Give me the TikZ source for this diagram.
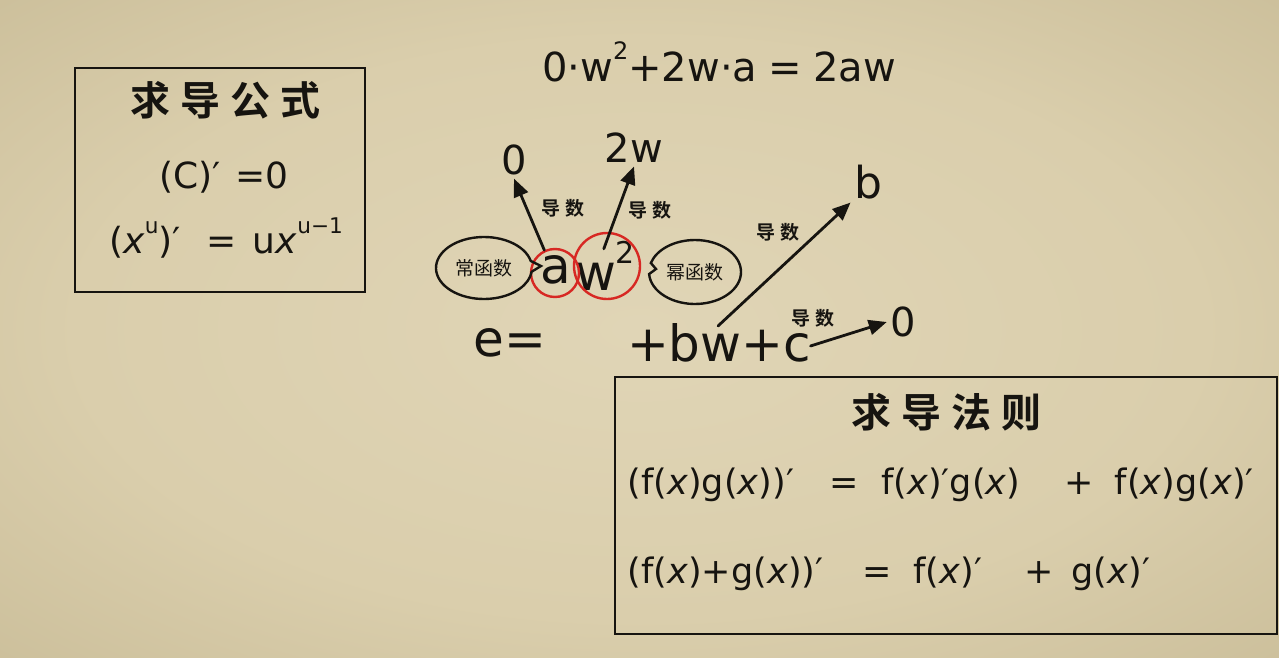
\documentclass[tikz,border=0pt]{standalone}
\usepackage{fontspec}
\setmainfont{DejaVu Sans}
\newfontfamily\cjk{Noto Sans CJK SC}
\newfontfamily\cjkbold{Noto Sans CJK SC Bold}
\usetikzlibrary{positioning, arrows.meta, shapes.callouts}
\definecolor{paperc}{RGB}{224,213,182}
\definecolor{paperb}{RGB}{218,206,172}
\definecolor{paperm}{RGB}{198,185,148}
\definecolor{papere}{RGB}{160,147,110}
\definecolor{paperx}{RGB}{135,123,92}
\definecolor{ink}{RGB}{22,20,16}
\definecolor{ringred}{RGB}{215,40,35}
\pgfdeclareradialshading{paper}{\pgfpoint{0bp}{0bp}}{color(0bp)=(paperc); color(22bp)=(paperb); color(42bp)=(paperm); color(58bp)=(papere); color(72bp)=(paperx)}
\newcommand{\hsup}[1]{\raisebox{0.55em}{\scalebox{0.6}{#1}}}

\begin{document}
\begin{tikzpicture}[
    x=1pt, y=-1pt,
    ink, line cap=round,
    bigtxt/.style={font=\fontsize{50}{56}\selectfont},
    toptxt/.style={font=\fontsize{40}{46}\selectfont},
    formula/.style={font=\fontsize{36}{42}\selectfont},
    rule/.style={font=\fontsize{35}{40}\selectfont},
    title/.style={font=\cjkbold\fontsize{40}{44}\selectfont},
    deriv/.style={font=\cjkbold\fontsize{19}{22}\selectfont},
    bubble/.style={ellipse callout, draw, line width=2.4pt, minimum width=96pt,
        minimum height=62pt, inner sep=0pt, font=\cjk\fontsize{19}{22}\selectfont,
        callout pointer arc=20},
    ring/.style={circle, draw=ringred, line width=2.4pt, inner sep=0pt},
    darrow/.style={line width=2.8pt, -{Triangle[length=18pt, width=15pt]}},
    frame/.style={draw, line width=2.6pt}
]
    % paper
    \shade[shading=paper] (0,0) rectangle (1279,658);
    \useasboundingbox (0,0) rectangle (1279,658);

    % formula box
    \draw[frame] (75,68) rectangle (365,292);
    \node[title] (ftitle) at (225,100) {求\hspace{10pt}导\hspace{10pt}公\hspace{10pt}式};
    \node[formula] (fconst) at (224,177) {(C)′\hspace{14pt}=0};
    \node[formula] (fpow) at (226,238) {(\textit{x}\hsup{u})′\hspace{26pt}=\hspace{16pt}u\textit{x}\hsup{u−1}};

    % result on top
    \node[toptxt] (result) at (719,62) {0·w\hsup{2}+2w·a\;=\;2aw};

    % e = a w^2 + b w + c
    \node[bigtxt] (elhs) at (510,343) {e=};
    \node[bigtxt] (ta) at (556,270) {a};
    \node[bigtxt] (tw) at (605,266) {w\hsup{2}};
    \node[bigtxt] (bwc) at (719,343) {+bw+c};
    \node[ring, minimum size=48pt] (ra) at (555,273) {};
    \node[ring, minimum size=66pt] (rw) at (607,266) {};

    % bubbles
    \node[bubble, callout absolute pointer={(541,266)}] (const) at (484,268) {常函数};
    \node[bubble, callout absolute pointer={(656,269)}, minimum width=92pt, minimum height=64pt] (power) at (695,272) {幂函数};

    % derivatives
    \node[font=\fontsize{40}{46}\selectfont] (zeroa) at (514,160) {0};
    \node[toptxt] (twow) at (634,148) {2w};
    \node[font=\fontsize{44}{50}\selectfont] (bval) at (868,182) {b};
    \node[font=\fontsize{40}{46}\selectfont] (zeroc) at (903,322) {0};
    \coordinate (bwtop) at (718,326);

    \draw[darrow] (ra.115) -- (zeroa.south);
    \draw[darrow, shorten <=-18pt] (rw.85) -- (twow.south);
    \draw[darrow] (bwtop) -- (bval.south west);
    \draw[darrow] (bwc.east) ++(-4,3) -- (zeroc.west);

    \node[deriv] (da) at (563,208) {导\hspace{6pt}数};
    \node[deriv] (dw) at (650,210) {导\hspace{6pt}数};
    \node[deriv] (db) at (778,232) {导\hspace{6pt}数};
    \node[deriv] (dc) at (813,318) {导\hspace{6pt}数};

    % rules box
    \draw[frame] (615,377) rectangle (1277,634);
    \node[title] (rtitle) at (946,412) {求\hspace{10pt}导\hspace{10pt}法\hspace{10pt}则};
    \node[rule, anchor=west] (rprod) at (624,485) {(f(\textit{x})g(\textit{x}))′\hspace{36pt}=\hspace{22pt}f(\textit{x})′g(\textit{x})\hspace{44pt}+\hspace{21pt}f(\textit{x})g(\textit{x})′};
    \node[rule, anchor=west] (rsum) at (624,574) {(f(\textit{x})+g(\textit{x}))′\hspace{39pt}=\hspace{22pt}f(\textit{x})′\hspace{42pt}+\hspace{18pt}g(\textit{x})′};
\end{tikzpicture}
\end{document}
